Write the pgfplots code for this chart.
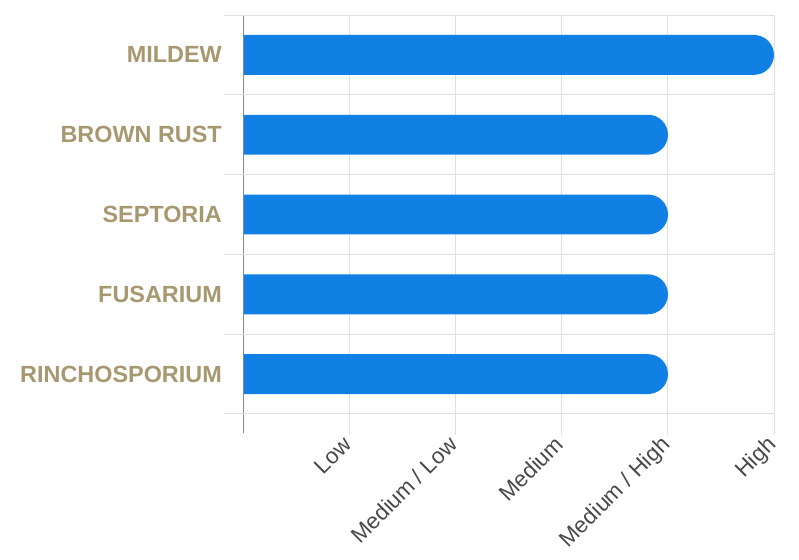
\documentclass[border=0pt]{standalone}
\usepackage{pgfplots}
\pgfplotsset{compat=1.18}
\usepackage{fontspec}
\setmainfont{Liberation Sans}
\definecolor{barblue}{RGB}{17,128,229}
\definecolor{tan}{RGB}{168,152,112}
\definecolor{gridgray}{RGB}{224,224,224}
\definecolor{axisgray}{RGB}{140,140,140}
\definecolor{ticktext}{RGB}{72,72,72}
\begin{document}
\begin{tikzpicture}
\begin{axis}[
  name=ax,
  width=530bp, height=399bp, scale only axis,
  xmin=0, xmax=5, ymin=-0.5, ymax=4.5, y dir=reverse,
  axis lines*=left,
  x axis line style={draw=none},
  y axis line style={draw=axisgray, line width=1bp},
  tick align=outside,
  major tick length=0pt,
  minor tick length=19bp,
  xtick={1,2,3,4,5},
  xticklabels={Low, Medium / Low, Medium, Medium / High, High},
  minor xtick={0},
  ytick={0,1,2,3,4},
  yticklabels={MILDEW, BROWN RUST, SEPTORIA, FUSARIUM, RINCHOSPORIUM},
  xmajorgrids=true, xminorgrids=false, ymajorgrids=false, yminorgrids=false,
  grid style={draw=gridgray, line width=1bp},
  minor tick style={draw=axisgray, line width=1bp},
  extra x ticks={1,2,3,4,5},
  extra x tick labels={},
  extra x tick style={grid=none, major tick length=21bp, tick style={draw=gridgray, line width=1bp}},
  extra y ticks={-0.5,0.5,1.5,2.5,3.5,4.5},
  extra y tick labels={},
  extra y tick style={grid=major, major tick length=20bp, tick style={draw=gridgray, line width=1bp}},
  yticklabel style={font=\bfseries\fontsize{23.5}{28}\selectfont, text=tan, inner sep=0pt, anchor=east, xshift=-22bp},
  xticklabel style={font=\fontsize{22.5}{26}\selectfont, text=ticktext, inner sep=0pt, xshift=3bp, yshift=-32bp, rotate=45, anchor=base east},
  clip=true,
]
\addplot[fill=barblue, draw=none, rounded corners=20bp] coordinates {(-1,-0.25) (5,-0.25) (5,0.25) (-1,0.25)};
\addplot[fill=barblue, draw=none, rounded corners=20bp] coordinates {(-1,0.75) (4,0.75) (4,1.25) (-1,1.25)};
\addplot[fill=barblue, draw=none, rounded corners=20bp] coordinates {(-1,1.75) (4,1.75) (4,2.25) (-1,2.25)};
\addplot[fill=barblue, draw=none, rounded corners=20bp] coordinates {(-1,2.75) (4,2.75) (4,3.25) (-1,3.25)};
\addplot[fill=barblue, draw=none, rounded corners=20bp] coordinates {(-1,3.75) (4,3.75) (4,4.25) (-1,4.25)};
\end{axis}
\pgfresetboundingbox
\path ([shift={(-244bp,15bp)}]ax.north west) rectangle ([shift={(555bp,-545bp)}]ax.north west);
\end{tikzpicture}
\end{document}
